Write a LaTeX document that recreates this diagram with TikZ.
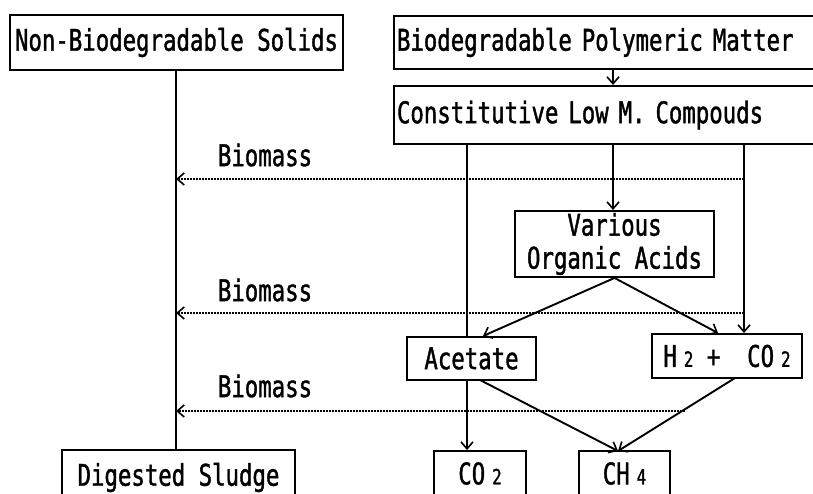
\documentclass[tikz,border=0pt]{standalone}
\usepackage{fontspec}
\usetikzlibrary{arrows.meta}
\newfontfamily\dmfont[FakeStretch=0.75,FakeBold=1.3]{DejaVu Sans Mono}
\newcommand\smalldigit[1]{\hspace{7pt}{\fontsize{21}{21}\selectfont #1}}
\begin{document}
\begin{tikzpicture}[x=1pt,y=-1pt,
  every node/.style={font=\dmfont\fontsize{29.8}{34}\selectfont},
  box/.style={draw, line width=1.9pt, inner sep=0pt, align=center},
  wide/.style={draw, line width=1.9pt, inner xsep=3pt, inner ysep=0pt,
    text width=417pt, align=left, minimum height=#1},
  link/.style={line width=1.9pt},
  flow/.style={line width=1.9pt, -{Straight Barb[length=7pt,width=12pt,line width=1.6pt]}},
  recycle/.style={line width=1.8pt, dash pattern=on 2pt off 1pt,
    -{Straight Barb[length=7pt,width=12pt,line width=1.6pt]}},
  lbl/.style={inner sep=0pt}]
\useasboundingbox (0,0) rectangle (813,494);
\clip (0,0) rectangle (813,494);

% boxes
\node[box, minimum width=333pt, minimum height=55pt] (nb) at (176.5,42.5) {Non-Biodegradable Solids};
\node[wide=53pt, anchor=north west] (bp) at (393,15) {Biodegradable Polymeric Matter};
\node[wide=58pt, anchor=north west] (lm) at (393,85) {Constitutive Low M. Compouds};
\node[box, minimum width=199pt, minimum height=66pt] (oa) at (614.5,244)
  {Various\\[-1pt]Organic Acids};
\node[box, minimum width=129pt, minimum height=43pt] (ac) at (471.5,358.5) {Acetate};
\node[box, minimum width=150pt, minimum height=44pt] (hc) at (727,356)
  {H\smalldigit{2} + \ CO\smalldigit{2}};
\node[box, minimum width=233pt, minimum height=55pt] (ds) at (178.5,477.5) {Digested Sludge};
\node[box, minimum width=92pt, minimum height=45pt] (co) at (480,473.5) {CO\smalldigit{2}};
\node[box, minimum width=91pt, minimum height=45pt] (ch) at (624.5,473.5) {CH\smalldigit{4}};

% branch points on the box edges
\coordinate (nbo) at (176,70);
\coordinate (bpo) at (613,68);
\coordinate (lmL) at (467,143);
\coordinate (lmM) at (613,143);
\coordinate (lmR) at (744,143);
\coordinate (acin) at (483,336);
\coordinate (hcin) at (718,333);
\coordinate (acR) at (480,380);
\coordinate (hco) at (735,378);
\coordinate (chin) at (618,451);
% points where the biomass lines meet the flow lines
\coordinate (b1) at (744,179);
\coordinate (b2) at (744,313);
\coordinate (b3) at (685,411);
\coordinate (e1) at (176,179);
\coordinate (e2) at (176,313);
\coordinate (e3) at (176,411);

% solid flows
\draw[link] (nbo) -- (nbo |- ds.north);
\draw[flow] (bpo) -- (bpo |- lm.north);
\draw[link] (lmL) -- (lmL |- ac.north);
\draw[flow] (lmM) -- (lmM |- oa.north);
\draw[flow] (lmR) -- (lmR |- hc.north);
\draw[flow] (oa.south) -- (acin);
\draw[flow] (oa.south) -- (hcin);
\draw[flow] (lmL |- ac.south) -- (lmL |- co.north);
\draw[flow] (acR) -- (chin);
\draw[flow] (hco) -- (chin);

% biomass returns
\draw[recycle] (b1) -- (e1);
\draw[recycle] (b2) -- (e2);
\draw[recycle] (b3) -- (e3);
\node[lbl] (m1) at (265,155) {Biomass};
\node[lbl] (m2) at (265,290) {Biomass};
\node[lbl] (m3) at (265,386) {Biomass};
\end{tikzpicture}
\end{document}
